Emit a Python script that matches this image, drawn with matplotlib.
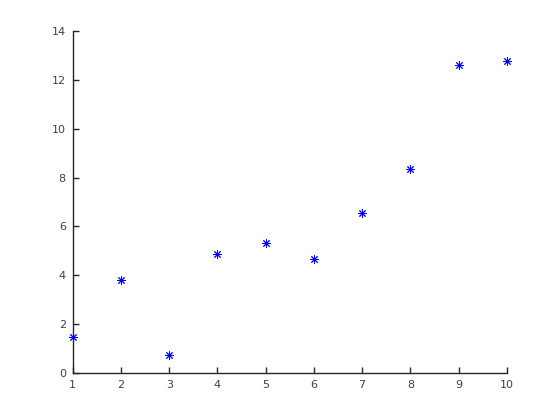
import matplotlib
matplotlib.use("Agg")
import matplotlib.pyplot as plt

# data
x_vals = [1, 2, 3, 4, 5, 6, 7, 8, 9, 10]
y_vals = [1.47, 3.81, 0.74, 4.87, 5.32, 4.67, 6.55, 8.35, 12.61, 12.77]

x_ticks = list(range(1, 11))
y_ticks = [0, 2, 4, 6, 8, 10, 12, 14]

fig = plt.figure(figsize=(5.6, 4.2), dpi=100)
ax = fig.add_axes([0.130, 0.112, 0.775, 0.814])

ax.plot(x_vals, y_vals, linestyle="none", marker=(8, 2, 0), markersize=6,
        color="#0000ff", markeredgewidth=0.7, clip_on=False, zorder=3)

ax.set_xlim(1, 10)
ax.set_ylim(0, 14)
ax.set_xticks(x_ticks)
ax.set_yticks(y_ticks)

for side in ["top", "right"]:
    ax.spines[side].set_visible(False)
for side in ["left", "bottom"]:
    ax.spines[side].set_color("#262626")
    ax.spines[side].set_linewidth(1.0)

ax.tick_params(direction="in", length=4, width=1.0, colors="#262626",
               labelsize=8, labelcolor="#404040", pad=5)

fig.savefig("out.png", dpi=100)
